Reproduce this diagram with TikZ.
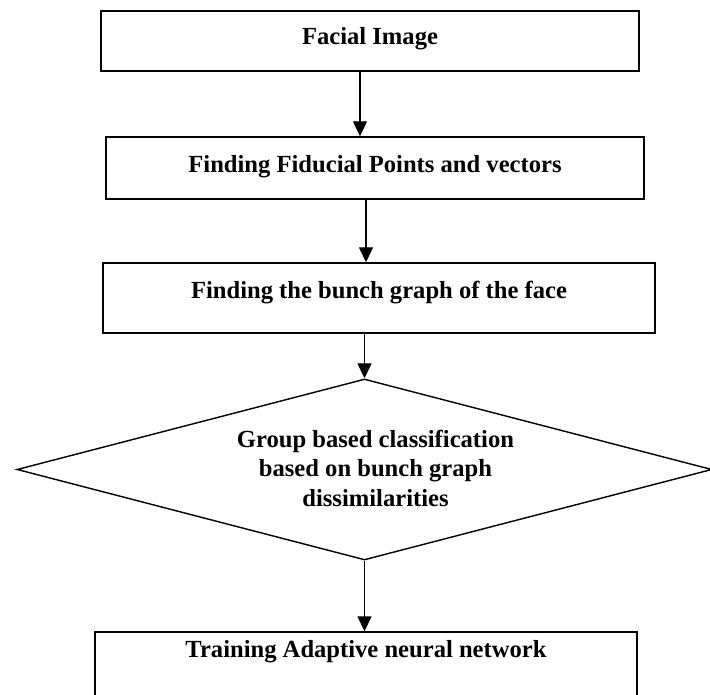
\documentclass[tikz,border=0pt]{standalone}
\usepackage{fontspec}
\setmainfont{Liberation Serif}
\usetikzlibrary{shapes.geometric,arrows.meta}

\begin{document}
\begin{tikzpicture}[
  box/.style={draw, line width=0.8pt, inner sep=0pt},
  rombo/.style={draw, diamond, line width=0.8pt, inner sep=0pt},
  txt/.style={font=\fontsize{14}{16.8}\selectfont\bfseries, align=center},
  flecha/.style={-{Triangle[length=0.3cm,width=0.28cm]}, line width=0.8pt}
]
  % Marco
  \useasboundingbox (0,0) rectangle (14.2,13.88);

  % Cajas
  \node[box, minimum width=10.76cm, minimum height=1.20cm] (img) at (7.40,13.06) {};
  \node[box, minimum width=10.76cm, minimum height=1.24cm] (fid) at (7.50,10.52) {};
  \node[box, minimum width=11.04cm, minimum height=1.40cm] (bunch) at (7.58,7.92) {};
  \node[rombo, minimum width=13.9cm, minimum height=3.62cm] (group) at (7.29,4.49) {};
  \node[box, minimum width=10.84cm, minimum height=1.32cm] (train) at (7.32,0.58) {};

  % Textos
  \node[txt] (t1) at ([yshift=0.04cm]img.center) {Facial Image};
  \node[txt] (t2) at ([yshift=0.02cm]fid.center) {Finding Fiducial Points and vectors};
  \node[txt] (t3) at ([yshift=0.10cm]bunch.center) {Finding the bunch graph of the face};
  \node[txt] (t4) at ([xshift=0.22cm,yshift=0.03cm]group.center) {Group based classification\\based on bunch graph\\dissimilarities};
  \node[txt] (t5) at ([yshift=0.27cm]train.center) {Training Adaptive neural network};

  % Flechas
  \draw[flecha] ([xshift=-0.20cm]img.south) -- ([xshift=-0.30cm]fid.north);
  \draw[flecha] ([xshift=-0.18cm]fid.south) -- ([xshift=-0.26cm]bunch.north);
  \draw[flecha] (bunch.south -| group.north) -- (group.north);
  \draw[flecha] (group.south) -- (group.south |- train.north);
\end{tikzpicture}
\end{document}
